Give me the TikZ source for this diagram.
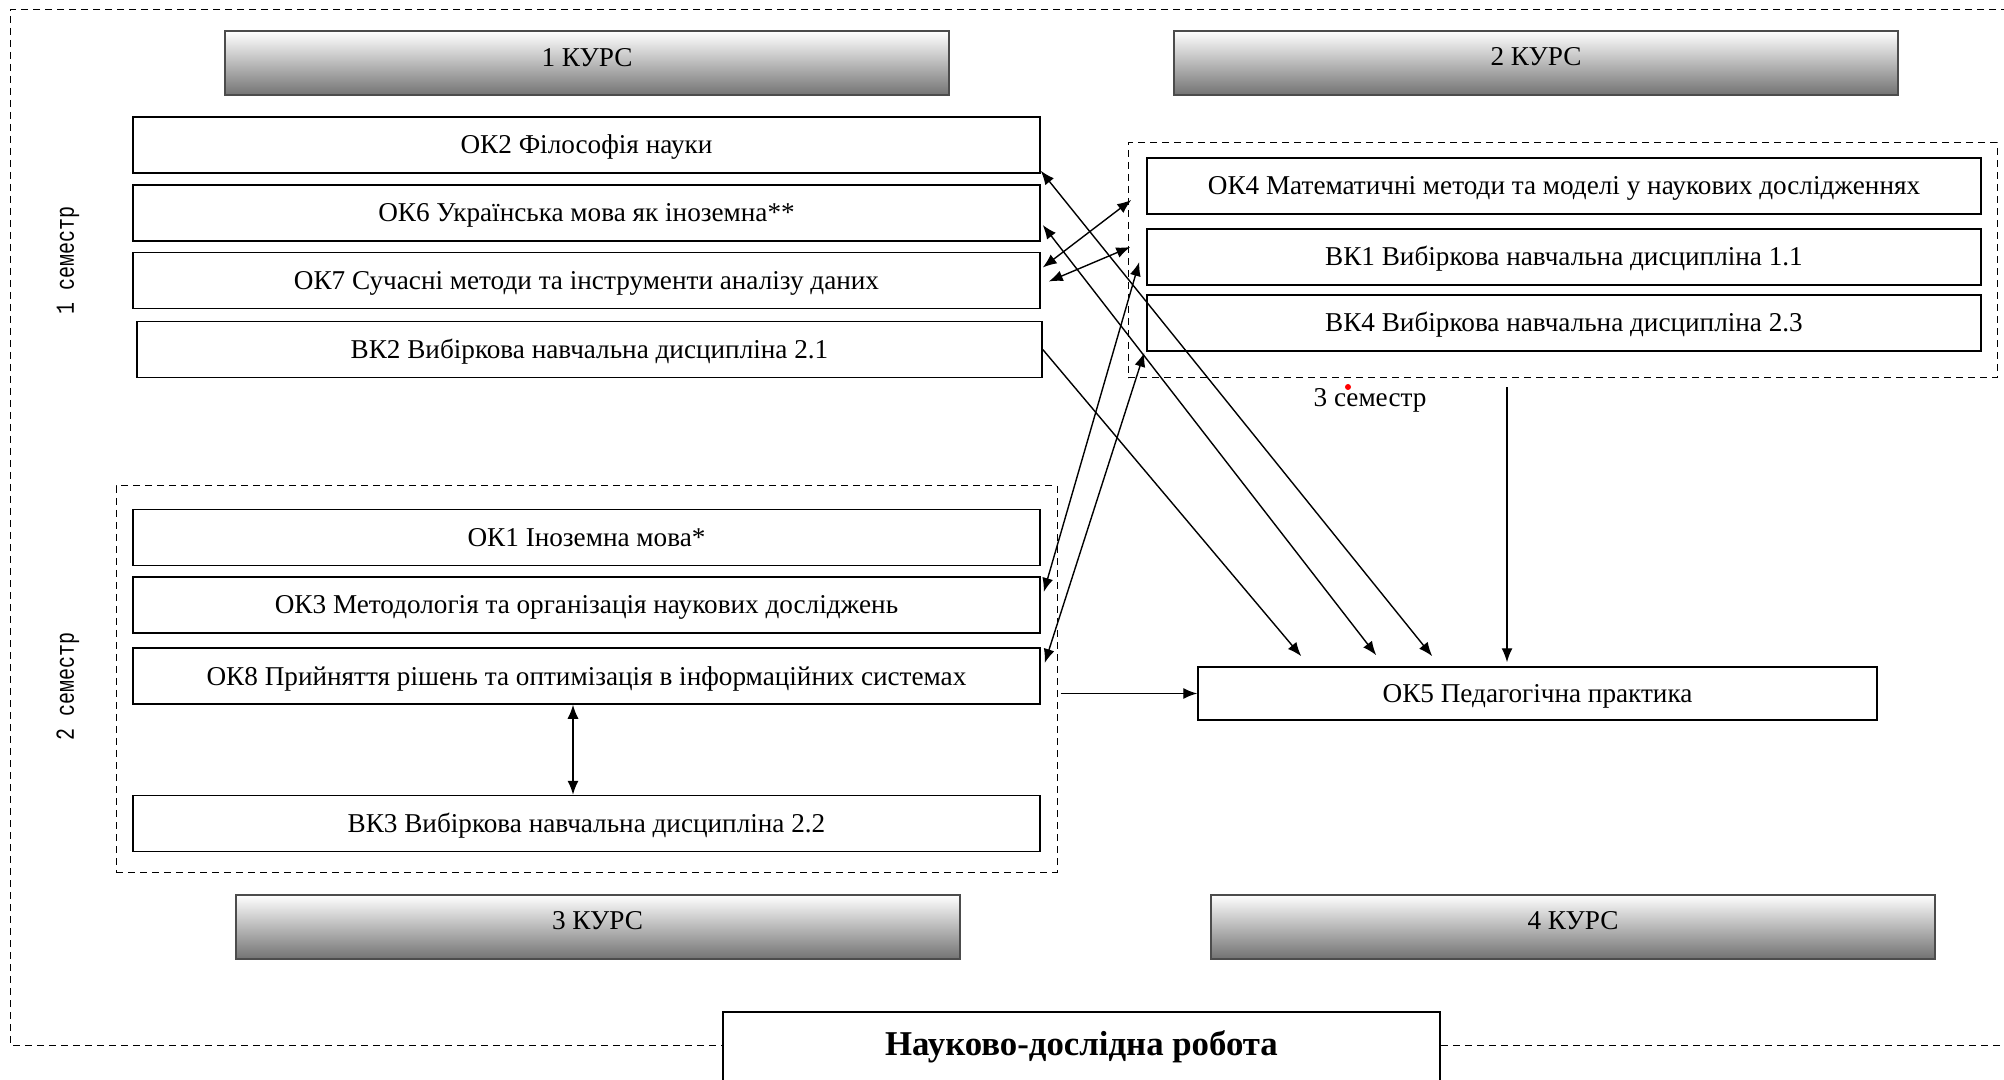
\documentclass[tikz,border=0pt]{standalone}
\usepackage{fontspec}
\setmainfont{Liberation Serif}
\newfontfamily\semfont{Liberation Mono}
\usetikzlibrary{arrows.meta,calc,positioning}

\begin{document}
\begin{tikzpicture}[x=50pt,y=-50pt,>={Latex[length=7pt,width=5.5pt]},
    disc/.style={draw,line width=0.75pt,fill=white,inner sep=0pt,minimum width=453.5pt,minimum height=28pt,text height=11.2pt,text depth=2.2pt,font=\fontsize{13.6}{16}\selectfont},
    kurs/.style={draw=black!70,line width=1pt,top color=white,bottom color=black!55,inner sep=0pt,minimum width=362pt,minimum height=32pt,text height=8.8pt,text depth=6pt,font=\fontsize{13.6}{16}\selectfont},
    semframe/.style={draw,line width=0.5pt,dash pattern=on 3.5pt off 2.5pt,inner sep=0pt},
    semlabel/.style={rotate=90,font=\semfont\fontsize{10}{12}\selectfont},
    link/.style={line width=0.7pt}]
    \useasboundingbox (0,0) rectangle (20.04,10.8);
    % outer frame
    \draw[semframe] (20.2,0.10) -- (0.10,0.10) -- (0.10,10.45) -- (20.2,10.45);
    % courses
    \node[kurs] (k1) at (5.87,0.635) {1 КУРС};
    \node[kurs] (k2) at (15.36,0.63) {2 КУРС};
    \node[kurs] (k3) at (5.975,9.27) {3 КУРС};
    \node[kurs] (k4) at (15.73,9.265) {4 КУРС};
    % semester frames
    \node[semframe,minimum width=434.5pt,minimum height=117.5pt] (sem3) at (15.625,2.605) {};
    \node[semframe,minimum width=470.5pt,minimum height=193pt] (sem2) at (5.865,6.79) {};
    \node[semlabel] (s1) at (0.68,2.60) {\scalebox{1}[1.3]{1 семестр}};
    \node[semlabel] (s2) at (0.68,6.86) {\scalebox{1}[1.3]{2 семестр}};
    \node[font=\fontsize{13.6}{16}\selectfont] (s3) at (13.70,4.00) {3 семестр};
    \fill[red] (13.48,3.87) circle (1.5pt);
    % 1 semester
    \node[disc] (ok2) at (5.865,1.45) {ОК2 Філософія науки};
    \node[disc] (ok6) at (5.865,2.13) {ОК6 Українська мова як іноземна**};
    \node[disc] (ok7) at (5.865,2.805) {ОК7 Сучасні методи та інструменти аналізу даних};
    \node[disc,minimum width=452.5pt] (vk2) at (5.895,3.495) {ВК2 Вибіркова навчальна дисципліна 2.1};
    % 2 semester
    \node[disc] (ok1) at (5.865,5.375) {ОК1 Іноземна мова*};
    \node[disc] (ok3) at (5.865,6.05) {ОК3 Методологія та організація наукових досліджень};
    \node[disc] (ok8) at (5.865,6.76) {ОК8 Прийняття рішень та оптимізація в інформаційних системах};
    \node[disc] (vk3) at (5.865,8.235) {ВК3 Вибіркова навчальна дисципліна 2.2};
    % 3 semester
    \node[disc,minimum width=417pt] (ok4) at (15.64,1.86) {ОК4 Математичні методи та моделі у наукових дослідженнях};
    \node[disc,minimum width=417pt] (vk1) at (15.64,2.57) {ВК1 Вибіркова навчальна дисципліна 1.1};
    \node[disc,minimum width=417pt] (vk4) at (15.64,3.23) {ВК4 Вибіркова навчальна дисципліна 2.3};
    \node[disc,minimum width=339.5pt,minimum height=26.5pt] (ok5) at (15.375,6.935) {ОК5 Педагогічна практика};
    % research
    \node[draw,line width=0.75pt,fill=white,anchor=north,inner sep=0pt,minimum width=358.5pt,text height=22pt,text depth=40pt,font=\bfseries\fontsize{17.4}{20}\selectfont] (nir) at (10.815,10.11) {Науково-дослідна робота};
    % links
    \draw[link,<->] ($(ok2.south east)+(0,-0.03)$) -- ($(ok5.north west)+(2.35,-0.10)$);
    \draw[link,<->] ($(ok6.east)+(0.02,0.12)$) -- ($(ok5.north west)+(1.79,-0.11)$);
    \draw[link,->] (vk2.east) -- ($(ok5.north west)+(1.04,-0.10)$);
    \draw[link,<->] ($(ok7.east)+(0.02,-0.13)$) -- ($(ok4.west)+(-0.15,0.14)$);
    \draw[link,<->] ($(ok7.east)+(0.08,0.01)$) -- ($(vk1.west)+(-0.16,-0.10)$);
    \draw[link,<->] ($(ok3.east)+(0.03,-0.13)$) -- ($(vk1.west)+(-0.07,0.05)$);
    \draw[link,<->] ($(ok8.east)+(0.04,-0.13)$) -- ($(vk4.south west)+(-0.02,0.01)$);
    \draw[link,->] ($(sem2.east |- ok5.west)+(0.03,0)$) -- (ok5.west);
    \draw[link,->] ($(sem3.south)+(-0.555,0.09)$) -- ($(ok5.north)+(-0.305,-0.04)$);
    \draw[link,<->] (ok8.south -| 5.73,0) -- (vk3.north -| 5.73,0);
\end{tikzpicture}
\end{document}
